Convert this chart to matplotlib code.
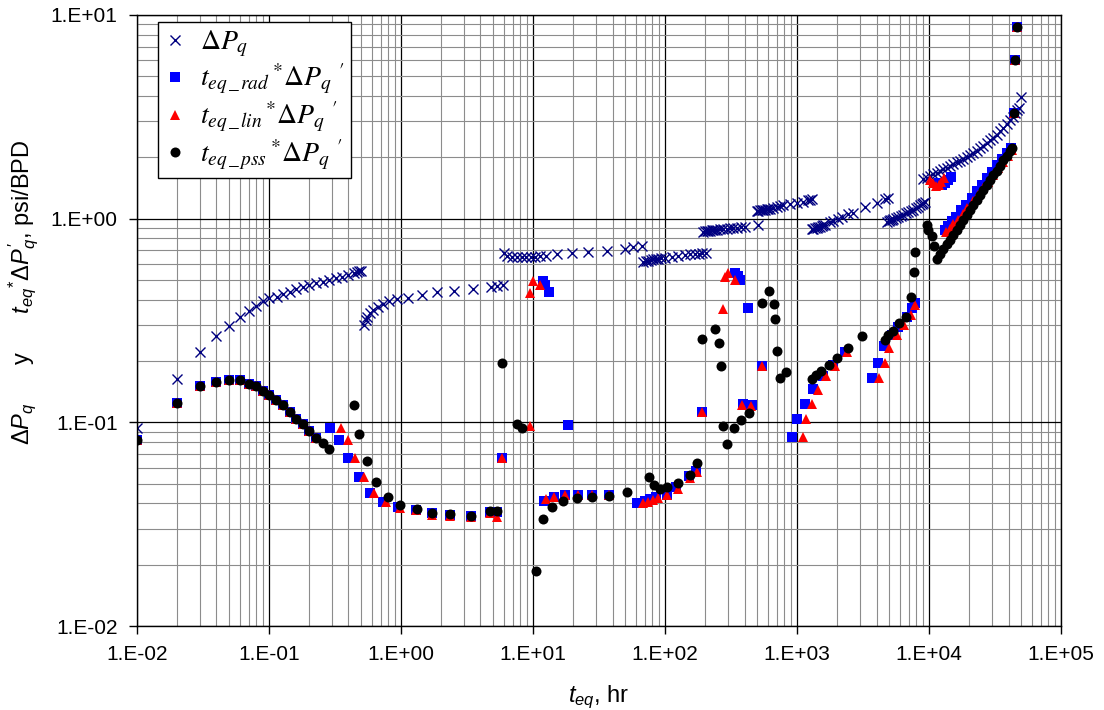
import numpy as np
import matplotlib
matplotlib.use("Agg")
import matplotlib.pyplot as plt
from matplotlib.ticker import LogLocator, FuncFormatter, NullFormatter

plt.rcParams['font.family'] = ['Liberation Sans', 'DejaVu Sans']
plt.rcParams['mathtext.fontset'] = 'custom'
plt.rcParams['mathtext.rm'] = 'Liberation Sans'
plt.rcParams['mathtext.it'] = 'Liberation Sans:italic'
plt.rcParams['mathtext.bf'] = 'Liberation Sans:bold'

# ---- Delta P_q (crosses), read segment by segment ----
dpq_a_t = [0.01, 0.02, 0.03, 0.04, 0.05, 0.06, 0.07, 0.08, 0.09, 0.10, 0.114, 0.127, 0.143,
           0.16, 0.18, 0.20, 0.227, 0.255, 0.286, 0.32, 0.36, 0.40, 0.44, 0.46, 0.48, 0.50]
dpq_a_v = [0.094, 0.164, 0.221, 0.264, 0.297, 0.330, 0.352, 0.372, 0.392, 0.406, 0.414, 0.426, 0.438,
           0.450, 0.460, 0.471, 0.482, 0.491, 0.500, 0.509, 0.519, 0.530, 0.540, 0.546, 0.552, 0.556]
dpq_b_t = [0.52, 0.54, 0.555, 0.58, 0.61, 0.67, 0.73, 0.81, 0.93, 1.13, 1.43, 1.86, 2.53, 3.49,
           4.78, 5.37, 5.96]
dpq_b_v = [0.300, 0.318, 0.330, 0.343, 0.357, 0.370, 0.381, 0.392, 0.402, 0.409, 0.421, 0.434, 0.441,
           0.453, 0.464, 0.467, 0.473]
dpq_c_t = [6.0, 6.4, 6.9, 7.5, 8.2, 8.9, 9.6, 10.3, 11.3, 12.5, 15.3, 19.8, 26.2, 36.1, 49.8, 57.5, 66.6]
dpq_c_v = [0.681, 0.656, 0.650, 0.650, 0.650, 0.650, 0.650, 0.650, 0.652, 0.658, 0.668, 0.676, 0.687,
           0.697, 0.710, 0.724, 0.730]
dpq_d_t = [68.5, 71.5, 74.8, 78, 81.6, 85, 89, 94, 100, 112, 126, 142, 155, 169, 180, 190, 204]
dpq_d_v = [0.615, 0.618, 0.622, 0.627, 0.632, 0.634, 0.636, 0.638, 0.641, 0.650, 0.658, 0.663, 0.667,
           0.671, 0.673, 0.676, 0.676]
dpq_e_t = [195, 201, 207, 213, 219, 225, 232, 239, 246, 261, 277, 294, 311, 330, 349, 376, 403, 509]
dpq_e_v = [0.862, 0.866, 0.870, 0.872, 0.874, 0.876, 0.878, 0.880, 0.882, 0.886, 0.890, 0.894, 0.897,
           0.900, 0.904, 0.909, 0.915, 0.935]
dpq_f_t = [494, 510, 525, 540, 556, 572, 589, 606, 624, 660, 701, 745, 788, 885, 996, 1117, 1219,
           1255, 1291]
dpq_f_v = [1.09, 1.095, 1.10, 1.10, 1.10, 1.105, 1.11, 1.115, 1.12, 1.13, 1.14, 1.155, 1.17, 1.18,
           1.20, 1.21, 1.235, 1.24, 1.245]
dpq_g_t = [1291, 1330, 1368, 1408, 1449, 1493, 1537, 1582, 1629, 1778, 1884, 2030, 2180, 2449, 2673,
           3275, 4014, 4643, 4920]
dpq_g_v = [0.887, 0.892, 0.898, 0.903, 0.908, 0.914, 0.921, 0.926, 0.931, 0.967, 0.977, 1.00, 1.02,
           1.054, 1.07, 1.14, 1.19, 1.245, 1.26]
dpq_h_t = [4786, 4930, 5072, 5220, 5377, 5620, 5867, 6130, 6402, 6690, 6986, 7300, 7623, 7960, 8305,
           8560, 8810, 9070, 9333]
dpq_h_v = [0.967, 0.976, 0.985, 0.989, 0.993, 1.008, 1.023, 1.032, 1.042, 1.062, 1.082, 1.092, 1.103,
           1.124, 1.145, 1.162, 1.18, 1.195, 1.21]
dpq_i_t = [9057, 9600, 10190, 10800, 11430, 12100, 12830, 13600, 14410, 15300, 16200, 17150, 18180,
           19300, 20450, 21700, 22960, 24300, 25770, 27300, 28970, 30700, 32580, 34500, 36540, 38700,
           41100, 43000, 44870, 46500, 48000, 49500]
dpq_i_v = [1.56, 1.59, 1.62, 1.65, 1.68, 1.71, 1.75, 1.78, 1.82, 1.855, 1.89, 1.925, 1.96, 2.00, 2.05,
           2.10, 2.16, 2.22, 2.28, 2.35, 2.42, 2.50, 2.58, 2.68, 2.78, 2.90, 3.05, 3.17, 3.30, 3.40,
           3.50, 3.95]

# ---- early part, shared by the three derivative series ----
early_t = [0.01, 0.02, 0.03, 0.04, 0.05, 0.06, 0.07, 0.08, 0.09, 0.10, 0.113, 0.127, 0.143, 0.160,
           0.180, 0.202, 0.227]
early_v = [0.082, 0.125, 0.150, 0.158, 0.162, 0.162, 0.155, 0.150, 0.143, 0.136, 0.128, 0.121, 0.112,
           0.104, 0.098, 0.0907, 0.0842]
late_t = [44300, 44900, 46200]
late_v = [3.29, 6.0, 8.7]

# ---- t_eq_rad * dPq' (squares) ----
rad_t = [0.29, 0.34, 0.40, 0.48, 0.58, 0.73, 0.95, 1.30, 1.72, 2.35, 3.37, 4.72, 5.30, 5.85,
         12.0, 12.3, 13.1, 18.5, 12.2, 14.3, 17.5, 22.0, 28.0, 37.8,
         61, 64, 70, 77, 85, 104, 121, 153, 172, 192,
         339, 358, 368, 428, 392, 454, 540,
         916, 1005, 1150, 1328, 1585, 1884, 2312,
         3680, 4130, 4560, 5210, 5860, 6780, 7390, 7830,
         11800, 12600, 13300, 14000, 14600,
         13300, 14000, 15000, 16000, 17500, 19000, 21000, 23000, 25000, 27500, 30000, 33000,
         36000, 39000, 42000]
rad_v = [0.0936, 0.082, 0.0667, 0.0542, 0.0452, 0.0408, 0.0383, 0.0372, 0.0357, 0.0350, 0.0345,
         0.0362, 0.0362, 0.0667,
         0.494, 0.473, 0.436, 0.097, 0.041, 0.043, 0.044, 0.044, 0.044, 0.044,
         0.040, 0.040, 0.041, 0.042, 0.043, 0.044, 0.048, 0.0544, 0.058, 0.112,
         0.54, 0.52, 0.50, 0.363, 0.123, 0.121, 0.19,
         0.0845, 0.104, 0.123, 0.145, 0.169, 0.191, 0.222,
         0.166, 0.196, 0.236, 0.269, 0.295, 0.33, 0.364, 0.385,
         1.50, 1.47, 1.50, 1.55, 1.60,
         0.88, 0.92, 0.97, 1.02, 1.10, 1.17, 1.27, 1.37, 1.47, 1.58, 1.70, 1.84, 1.97, 2.10, 2.23]

# ---- t_eq_lin * dPq' (triangles) ----
lin_t = [0.354, 0.40, 0.45, 0.52, 0.62, 0.77, 0.99, 1.30, 1.72, 2.35, 3.37, 4.72, 5.30, 5.85,
         9.5, 9.5, 9.96, 11.2, 12.5, 14.5, 17.5, 21.8, 28.1, 37.8,
         67.8, 74, 80.7, 89, 104, 125, 155, 174, 192,
         273, 285, 302, 339, 385, 446, 540,
         1105, 1169, 1291, 1436, 1650, 1950, 2400,
         4200, 4643, 5010, 5760, 6470, 7270, 7830,
         10200, 10700, 11200, 11800, 12400, 12900,
         13500, 14300, 15300, 16500, 18000, 19500, 21500, 23500, 25500, 28000, 30500, 33500,
         36500, 39500, 42400]
lin_v = [0.0936, 0.082, 0.0667, 0.0538, 0.0449, 0.0405, 0.038, 0.0370, 0.0352, 0.0347, 0.0343,
         0.0358, 0.0344, 0.0667,
         0.096, 0.43, 0.494, 0.473, 0.0419, 0.0432, 0.044, 0.044, 0.044, 0.044,
         0.040, 0.0408, 0.0416, 0.0427, 0.044, 0.0471, 0.0531, 0.0569, 0.112,
         0.36, 0.519, 0.54, 0.50, 0.122, 0.12, 0.19,
         0.0845, 0.104, 0.123, 0.144, 0.168, 0.19, 0.222,
         0.166, 0.196, 0.231, 0.269, 0.301, 0.337, 0.377,
         1.55, 1.50, 1.45, 1.47, 1.52, 1.58,
         0.86, 0.89, 0.94, 0.99, 1.06, 1.13, 1.22, 1.31, 1.41, 1.52, 1.63, 1.77, 1.90, 2.03, 2.18]

# ---- t_eq_pss * dPq' (circles) ----
pss_t = [0.255, 0.286, 0.44, 0.48, 0.556, 0.65, 0.79, 0.99, 1.31, 1.73, 2.35, 3.37, 4.72, 5.31,
         5.85, 7.5, 8.3, 10.6, 12.0, 14.0, 17.0, 21.4, 28.1, 37.8, 51.3,
         75.7, 83, 91.6, 104, 126, 155, 174,
         189, 239, 258, 264, 277, 297, 333, 374, 435,
         540, 617, 669, 681, 709, 743, 826,
         1291, 1393, 1513, 1758, 2000, 2449, 3090,
         4643, 4920, 5377, 5960, 6660, 7310, 7750, 7830,
         9590, 9880, 10470, 10900,
         11430, 12100, 12830, 13600, 14410, 15300, 16200, 17150, 18180, 19300, 20450, 21700,
         22960, 24300, 25770, 27300, 28970, 30700, 32580, 34500, 36540, 38700, 41100, 42400]
pss_v = [0.0795, 0.0738, 0.122, 0.0875, 0.0649, 0.0508, 0.0432, 0.0394, 0.0376, 0.036, 0.0354,
         0.0348, 0.0367, 0.0365,
         0.196, 0.098, 0.0936, 0.0187, 0.0334, 0.0383, 0.0413, 0.0427, 0.0432, 0.0437, 0.0457,
         0.0542, 0.0493, 0.0471, 0.048, 0.0502, 0.0552, 0.063,
         0.256, 0.288, 0.244, 0.19, 0.0964, 0.0783, 0.0936, 0.103, 0.111,
         0.385, 0.441, 0.38, 0.321, 0.225, 0.166, 0.176,
         0.163, 0.171, 0.179, 0.191, 0.208, 0.231, 0.266,
         0.254, 0.269, 0.282, 0.306, 0.33, 0.414, 0.55, 0.689,
         0.93, 0.88, 0.82, 0.73,
         0.632, 0.67, 0.708, 0.75, 0.789, 0.835, 0.883, 0.935, 0.989, 1.04, 1.10, 1.17,
         1.24, 1.31, 1.38, 1.46, 1.54, 1.63, 1.72, 1.82, 1.93, 2.04, 2.16, 2.22]

dpq_t = dpq_a_t + dpq_b_t + dpq_c_t + dpq_d_t + dpq_e_t + dpq_f_t + dpq_g_t + dpq_h_t + dpq_i_t
dpq_v = dpq_a_v + dpq_b_v + dpq_c_v + dpq_d_v + dpq_e_v + dpq_f_v + dpq_g_v + dpq_h_v + dpq_i_v

fig = plt.figure(figsize=(11.04, 7.10), dpi=100)
ax = fig.add_axes([0.1241, 0.1183, 0.8370, 0.8606])

ax.plot(dpq_t, dpq_v, ls='none', marker='x', color='#000080', ms=7, mew=1.0,
        label=r"$\Delta P_q$")
ax.plot(early_t + rad_t + late_t, early_v + rad_v + late_v, ls='none', marker='s',
        color='#0000FF', ms=6.5, mew=0, label=r"$t_{eq\,\_\,rad}\,{}^{*}\Delta P_q\ {}^{\prime}$")
ax.plot(early_t + lin_t + late_t, early_v + lin_v + late_v, ls='none', marker='^',
        color='#FF0000', ms=7, mew=0, label=r"$t_{eq\,\_\,lin}\,{}^{*}\Delta P_q\ {}^{\prime}$")
ax.plot(early_t + pss_t + late_t, early_v + pss_v + late_v, ls='none', marker='o',
        color='black', ms=7.2, mew=0, label=r"$t_{eq\,\_\,pss}\,{}^{*}\Delta P_q\ {}^{\prime}$")

ax.set_xscale('log')
ax.set_yscale('log')
ax.set_xlim(1e-2, 1e5)
ax.set_ylim(1e-2, 1e1)

for axis in (ax.xaxis, ax.yaxis):
    axis.set_major_locator(LogLocator(base=10, numticks=20))
    axis.set_minor_locator(LogLocator(base=10, subs=np.arange(2, 10), numticks=100))
    axis.set_minor_formatter(NullFormatter())
    axis.set_major_formatter(FuncFormatter(lambda v, p: "1.E%+03d" % int(round(np.log10(v)))))

ax.grid(which='major', color='black', lw=0.9)
ax.grid(which='minor', color='#8c8c8c', lw=0.8)
ax.set_axisbelow(True)
ax.tick_params(which='minor', length=0)
ax.tick_params(which='major', direction='out', length=6, width=1, labelsize=15, pad=8)
for s in ax.spines.values():
    s.set_color('black')
    s.set_linewidth(1)

ax.set_xlabel(r"$t_{eq}$, hr", fontsize=17)
ax.set_ylabel(r"$\Delta P_q$      y      $t_{eq}{}^{*}\Delta P_q^{\prime}$, psi/BPD", fontsize=17)
ax.xaxis.set_label_coords(0.5, -0.095)
ax.yaxis.set_label_coords(-0.104, 0.547)

leg = ax.legend(loc='upper left', bbox_to_anchor=(0.0227, 0.988), borderaxespad=0,
                fancybox=False, edgecolor='black', framealpha=1, fontsize=20,
                handlelength=0.8, handletextpad=0.5, labelspacing=0.12, borderpad=0.22)
leg.get_frame().set_linewidth(1.0)
for t in leg.get_texts():
    t.set_math_fontfamily('stix')

plt.savefig("out.png", dpi=100)
